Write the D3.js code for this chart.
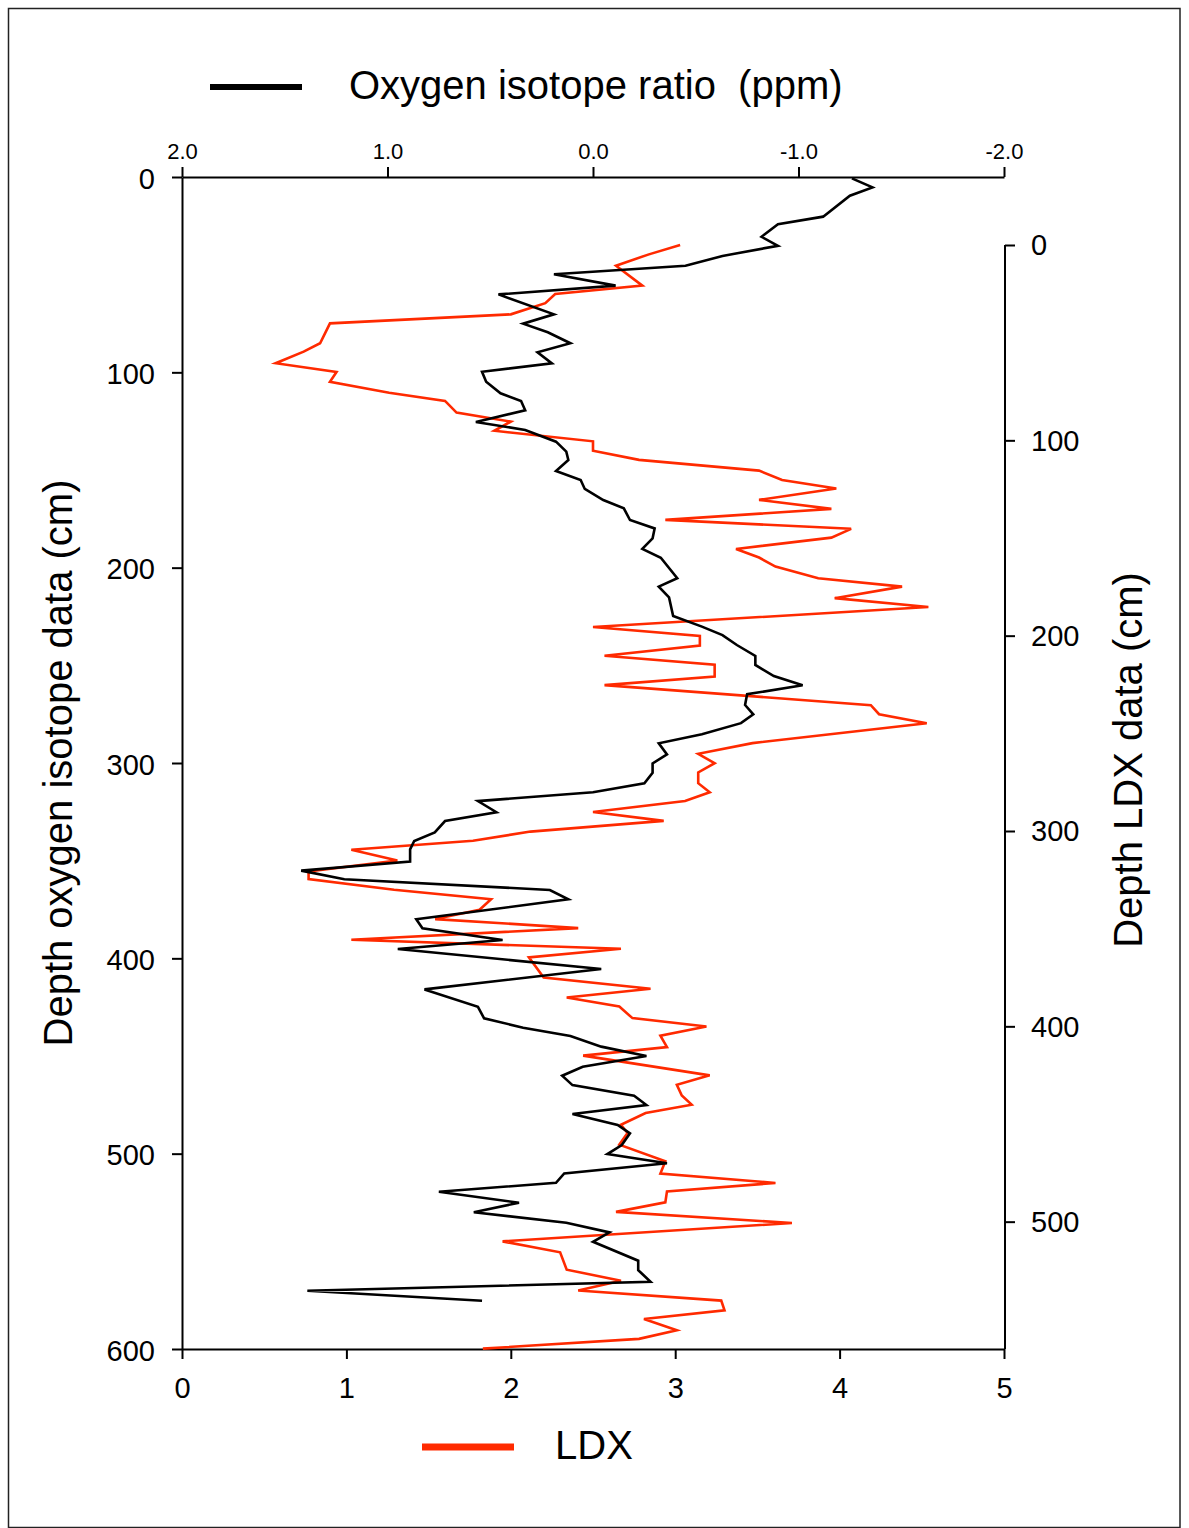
<!DOCTYPE html>
<html>
<head>
<meta charset="utf-8">
<script src="https://cdn.jsdelivr.net/npm/d3@7"></script>
<style>
  html, body { margin: 0; padding: 0; background: #fff; }
  svg text { font-family: "Liberation Sans", Arial, sans-serif; fill: #000; }
</style>
</head>
<body>
<svg id="chart" width="1189" height="1528"></svg>
<script>
// ---- Data ----
const oxyDepth = [0.7,5.3,9.6,20.3,24.2,30.6,35.2,40.4,45.4,49.8,55.6,60.1,70.3,75.1,79.5,85.1,89.7,95.4,99.7,104.8,110.7,114.7,119.4,125.4,129.5,135.5,140.6,144.9,150.5,155.1,159.7,165.4,169.6,175.6,179.9,185.0,190.4,194.9,205.4,209.7,215.2,224.7,230.2,234.5,239.6,245.2,249.8,255.5,260.2,264.8,270.3,275.1,279.6,285.3,289.9,295.6,300.2,305.0,310.4,315.0,319.5,325.2,329.7,335.5,339.9,344.2,350.5,355.1,359.5,365.0,369.8,380.0,384.6,390.6,395.2,405.5,415.9,424.8,430.7,435.5,439.8,445.2,450.0,455.5,460.1,464.9,470.3,475.1,479.7,485.3,489.6,495.6,500.2,504.9,510.1,514.9,519.5,525.1,530.0,535.4,540.3,545.1,554.8,559.6,565.6,570.2,575.3];
const oxyValue = [-1.26,-1.36,-1.25,-1.12,-0.90,-0.82,-0.90,-0.63,-0.45,0.19,-0.11,0.46,0.19,0.34,0.22,0.11,0.27,0.20,0.54,0.52,0.45,0.35,0.33,0.57,0.33,0.18,0.13,0.12,0.18,0.06,0.04,-0.05,-0.15,-0.18,-0.30,-0.29,-0.24,-0.33,-0.41,-0.32,-0.37,-0.39,-0.53,-0.63,-0.70,-0.79,-0.79,-0.88,-1.02,-0.75,-0.74,-0.78,-0.72,-0.53,-0.32,-0.36,-0.29,-0.29,-0.25,0.00,0.56,0.47,0.72,0.77,0.87,0.89,0.89,1.42,1.21,0.21,0.12,0.86,0.83,0.44,0.95,-0.04,0.82,0.56,0.53,0.34,0.11,-0.04,-0.26,0.05,0.15,0.10,-0.20,-0.26,0.10,-0.12,-0.18,-0.14,-0.07,-0.36,0.14,0.18,0.75,0.36,0.58,0.13,-0.08,0.00,-0.22,-0.22,-0.28,1.39,0.54];

const ldxDepth = [0,4.8,10.6,20.8,25.1,29.8,35.5,40.1,50.3,54.6,60.5,65.0,70.0,75.6,79.8,85.8,90.4,95.1,100.5,105.3,110.0,115.5,120.3,124.7,130.5,135.1,140.7,145.3,149.8,155.6,160.0,164.6,170.6,174.9,180.8,185.3,195.6,200.1,205.1,210.3,214.9,220.9,225.3,235.6,240.2,244.8,255.0,260.5,265.3,270.0,275.5,280.2,284.6,290.3,294.8,300.3,305.0,309.6,315.1,320.7,324.6,330.1,334.9,340.3,345.1,349.7,355.7,360.3,364.7,375.0,380.8,385.2,389.8,395.8,400.1,404.8,410.6,415.0,425.1,429.9,435.4,440.1,444.4,450.4,454.6,460.6,469.1,475.4,480.2,484.5,490.1,495.0,500.7,510.1,515.7,524.6,530.2,535.2,540.4,545.4,549.8,555.6,560.0,565.0];
const ldxValue = [3.03,2.84,2.64,2.80,2.27,2.21,2.00,0.90,0.84,0.74,0.57,0.94,0.90,1.26,1.60,1.67,2.00,1.90,2.50,2.50,2.78,3.51,3.65,3.98,3.51,3.95,2.94,4.07,3.95,3.37,3.51,3.61,3.87,4.38,3.97,4.54,2.50,3.15,3.15,2.57,3.24,3.24,2.57,4.19,4.24,4.53,3.47,3.14,3.24,3.14,3.14,3.21,3.06,2.50,2.93,2.12,1.77,1.03,1.31,0.77,0.77,1.29,1.88,1.81,1.54,2.41,1.03,2.67,2.11,2.20,2.85,2.34,2.66,2.74,3.19,2.91,2.95,2.44,3.21,3.01,3.04,3.10,2.82,2.67,2.71,2.66,2.94,2.91,3.61,2.95,2.94,2.64,3.71,1.95,2.30,2.34,2.67,2.41,3.28,3.30,2.81,3.01,2.78,1.83];

const oxyTicks = [2, 1, 0, -1, -2];
const ldxTicks = [0, 1, 2, 3, 4, 5];
const depthTicks = [0, 100, 200, 300, 400, 500, 600];
const ldxDepthTicks = [0, 100, 200, 300, 400, 500];

const oxyLabel = "Oxygen isotope ratio  (ppm)";
const ldxLabel = "LDX";
const leftTitle = "Depth oxygen isotope data (cm)";
const rightTitle = "Depth LDX data (cm)";

// ---- Layout ----
const L = 182, R = 1004, T = 177, B = 1349, RT = 245;
const RED = "#ff2a00";

const svg = d3.select("#chart");

// outer frame
svg.append("rect").attr("x", 8.5).attr("y", 8.5).attr("width", 1171.5).attr("height", 1519)
  .attr("fill", "none").attr("stroke", "#222").attr("stroke-width", 1.5);

const yDepth = d3.scaleLinear().domain([0, 600]).range([T, B]);
const xOxy = d3.scaleLinear().domain([2, -2]).range([L, R]);
const xLdx = d3.scaleLinear().domain([0, 5]).range([L, R]);
const yLdxDepth = d3.scaleLinear().domain([0, 500]).range([RT, RT + (yDepth(500) - yDepth(0))]);

function styleAxis(g, size) {
  g.selectAll(".domain").attr("stroke", "#000").attr("stroke-width", 2);
  g.selectAll(".tick line").attr("stroke", "#000").attr("stroke-width", 2);
  g.selectAll(".tick text").attr("font-size", size).attr("fill", "#000")
    .style("font-family", '"Liberation Sans", Arial, sans-serif');
}

// top axis (oxygen)
const gTop = svg.append("g").attr("transform", `translate(0,${T})`)
  .call(d3.axisTop(xOxy).tickValues(oxyTicks).tickFormat(d => d.toFixed(1)).tickSize(10).tickSizeOuter(0).tickPadding(8));
styleAxis(gTop, 22);

// bottom axis (LDX)
const gBot = svg.append("g").attr("transform", `translate(0,${B})`)
  .call(d3.axisBottom(xLdx).tickValues(ldxTicks).tickFormat(d3.format("d")).tickSize(10).tickSizeOuter(0).tickPadding(18));
styleAxis(gBot, 29);

// left axis (depth oxygen)
const gLeft = svg.append("g").attr("transform", `translate(${L},0)`)
  .call(d3.axisLeft(yDepth).tickValues(depthTicks).tickFormat(d3.format("d")).tickSize(10).tickSizeOuter(0).tickPadding(17));
styleAxis(gLeft, 29);
gLeft.selectAll(".tick text").attr("dy", "0.38em");

// right axis (depth LDX)
const gRight = svg.append("g").attr("transform", `translate(${R + 1},0)`)
  .call(d3.axisRight(yLdxDepth).tickValues(ldxDepthTicks).tickFormat(d3.format("d")).tickSize(10).tickSizeOuter(0).tickPadding(16));
styleAxis(gRight, 29);
gRight.select(".domain").attr("d", `M0,${RT}V${B}`);
gRight.selectAll(".tick text").attr("dy", "0.34em");

// data lines
const oxyData = d3.zip(oxyDepth, oxyValue);
const ldxData = d3.zip(ldxDepth, ldxValue);

svg.append("path").datum(ldxData)
  .attr("fill", "none").attr("stroke", RED).attr("stroke-width", 2.6).attr("stroke-linejoin", "miter")
  .attr("d", d3.line().x(d => xLdx(d[1])).y(d => yLdxDepth(d[0])));

svg.append("path").datum(oxyData)
  .attr("fill", "none").attr("stroke", "#000").attr("stroke-width", 2.6).attr("stroke-linejoin", "miter")
  .attr("d", d3.line().x(d => xOxy(d[1])).y(d => yDepth(d[0])));

// axis titles
svg.append("text").attr("transform", `translate(72,${(yDepth(0)+yDepth(600))/2}) rotate(-90)`)
  .attr("text-anchor", "middle").attr("font-size", 40).text(leftTitle);
svg.append("text").attr("transform", `translate(1142,760) rotate(-90)`)
  .attr("text-anchor", "middle").attr("font-size", 40).text(rightTitle);

// legends
svg.append("line").attr("x1", 210).attr("x2", 302).attr("y1", 87).attr("y2", 87)
  .attr("stroke", "#000").attr("stroke-width", 6);
svg.append("text").attr("x", 349).attr("y", 99).attr("font-size", 40)
  .style("white-space", "pre").text(oxyLabel);

svg.append("line").attr("x1", 422).attr("x2", 514).attr("y1", 1447).attr("y2", 1447)
  .attr("stroke", RED).attr("stroke-width", 7);
svg.append("text").attr("x", 555).attr("y", 1459).attr("font-size", 40).text(ldxLabel);
</script>
</body>
</html>
